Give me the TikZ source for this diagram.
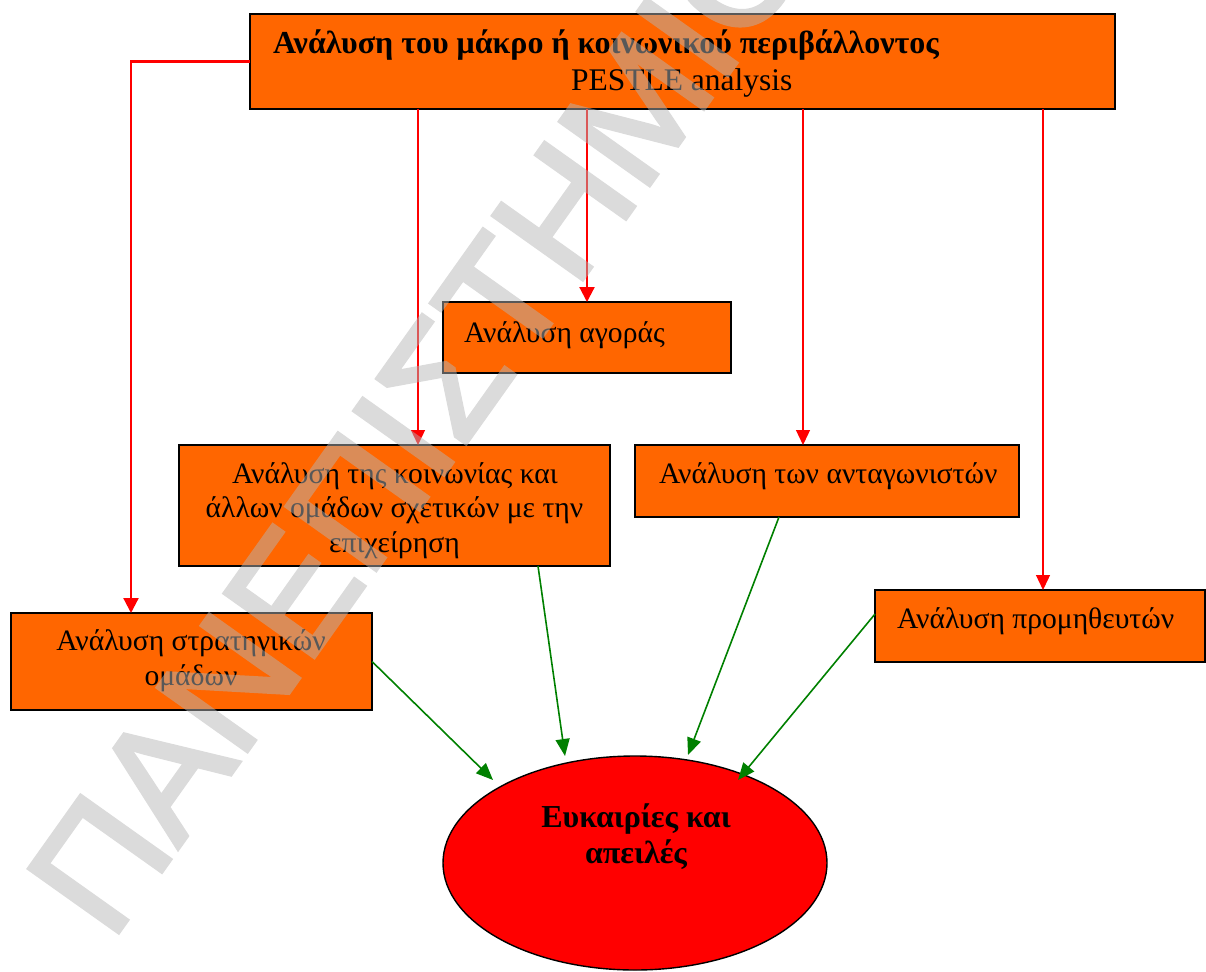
\documentclass[tikz,border=0pt]{standalone}
\usepackage{fontspec}
\setmainfont{Liberation Serif}
\newfontfamily\wmfont[FakeBold=2.5]{Liberation Sans}
\usetikzlibrary{arrows.meta,shapes.geometric}
\definecolor{boxorange}{HTML}{FF6600}
\definecolor{arrgreen}{HTML}{008000}
\definecolor{wmgray}{gray}{0.71}
\begin{document}
\begin{tikzpicture}[x=1pt,y=-1pt,
  box/.style={draw=black,line width=1.4pt,fill=boxorange,inner sep=0pt,outer sep=0pt},
  txt/.style={inner sep=0pt,outer sep=0pt,font=\fontsize{29.6}{36.5}\selectfont},
  bold/.style={inner sep=0pt,outer sep=0pt,font=\fontsize{32}{36.5}\selectfont\bfseries},
  redthin/.style={draw=red,line width=1.3pt,-{Triangle[length=15pt,width=14pt]}},
  redthick/.style={draw=red,line width=2.2pt,-{Triangle[length=15pt,width=15pt]}},
  grn/.style={draw=arrgreen,line width=1.6pt,-{Triangle[length=17pt,width=14pt]}},
  wm/.style={inner sep=0pt,outer sep=0pt,text=wmgray,font=\wmfont\fontsize{160}{160}\selectfont}]
\useasboundingbox (0,0) rectangle (1206,971);

% boxes
\node[box,line width=2.2pt,minimum width=865pt,minimum height=95pt] (title) at (682.5,61.5) {};
\node[box,minimum width=288pt,minimum height=71pt] (mkt) at (587,337.5) {};
\node[box,minimum width=431pt,minimum height=121pt] (soc) at (394.5,505.5) {};
\node[box,minimum width=384pt,minimum height=72pt] (comp) at (827,481) {};
\node[box,minimum width=330pt,minimum height=72pt] (sup) at (1040,626) {};
\node[box,minimum width=361pt,minimum height=97pt] (strat) at (191.5,661.5) {};
\node[ellipse,draw=black,line width=1.4pt,fill=red,inner sep=0pt,outer sep=0pt,
      minimum width=384pt,minimum height=214pt] (ell) at (635,863) {};

% texts
\node[bold,anchor=base west] (t1) at (273,54) {Ανάλυση του μάκρο ή κοινωνικού περιβάλλοντος};
\node[txt,anchor=base west,font=\fontsize{31.5}{36.5}\selectfont] (t2) at (571,91) {PESTLE analysis};
\node[txt,anchor=base west] (tm) at (464,342) {Ανάλυση αγοράς};
\node[txt,anchor=base] (ts1) at (395,483) {Ανάλυση της κοινωνίας και};
\node[txt,anchor=base] (ts2) at (394.5,517.5) {άλλων ομάδων σχετικών με την};
\node[txt,anchor=base] (ts3) at (394.5,552) {επιχείρηση};
\node[txt,anchor=base west] (tc) at (659,483) {Ανάλυση των ανταγωνιστών};
\node[txt,anchor=base west] (tp) at (897,628) {Ανάλυση προμηθευτών};
\node[txt,anchor=base] (tg1) at (191,650) {Ανάλυση στρατηγικών};
\node[txt,anchor=base] (tg2) at (191,685) {ομάδων};
\node[bold,anchor=base] (te1) at (636,827) {Ευκαιρίες και};
\node[bold,anchor=base] (te2) at (636,863) {απειλές};

% red connectors
\coordinate (socin) at ([xshift=239pt]soc.north west);
\coordinate (compin) at ([xshift=168pt]comp.north west);
\coordinate (supin) at ([xshift=168pt]sup.north west);
\draw[redthick] (title.west) -| ([xshift=120pt]strat.north west);
\draw[redthin] (title.south -| socin) -- (socin);
\draw[redthick] (title.south -| mkt.north) -- (mkt.north);
\draw[redthin] (title.south -| compin) -- (compin);
\draw[redthin] (title.south -| supin) -- (supin);

% green connectors
\draw[grn] (strat.east) -- ([shift={(-142pt,83pt)}]ell.center);
\draw[grn] ([xshift=359pt]soc.south west) -- ([shift={(-70pt,107pt)}]ell.center);
\draw[grn] ([xshift=144pt]comp.south west) -- ([shift={(53pt,108pt)}]ell.center);
\draw[grn] ([yshift=12pt]sup.west) -- ([shift={(103pt,83pt)}]ell.center);

% watermark
\begin{scope}
\clip (0,0) rectangle (1206,971);
\begin{scope}[transparency group,opacity=0.49]
\node[wm,anchor=base west,rotate=54.6] (wmark) at (111,943) {ΠΑΝΕΠΙΣΤΗΜΙΟ};
\end{scope}
\end{scope}
\end{tikzpicture}
\end{document}
